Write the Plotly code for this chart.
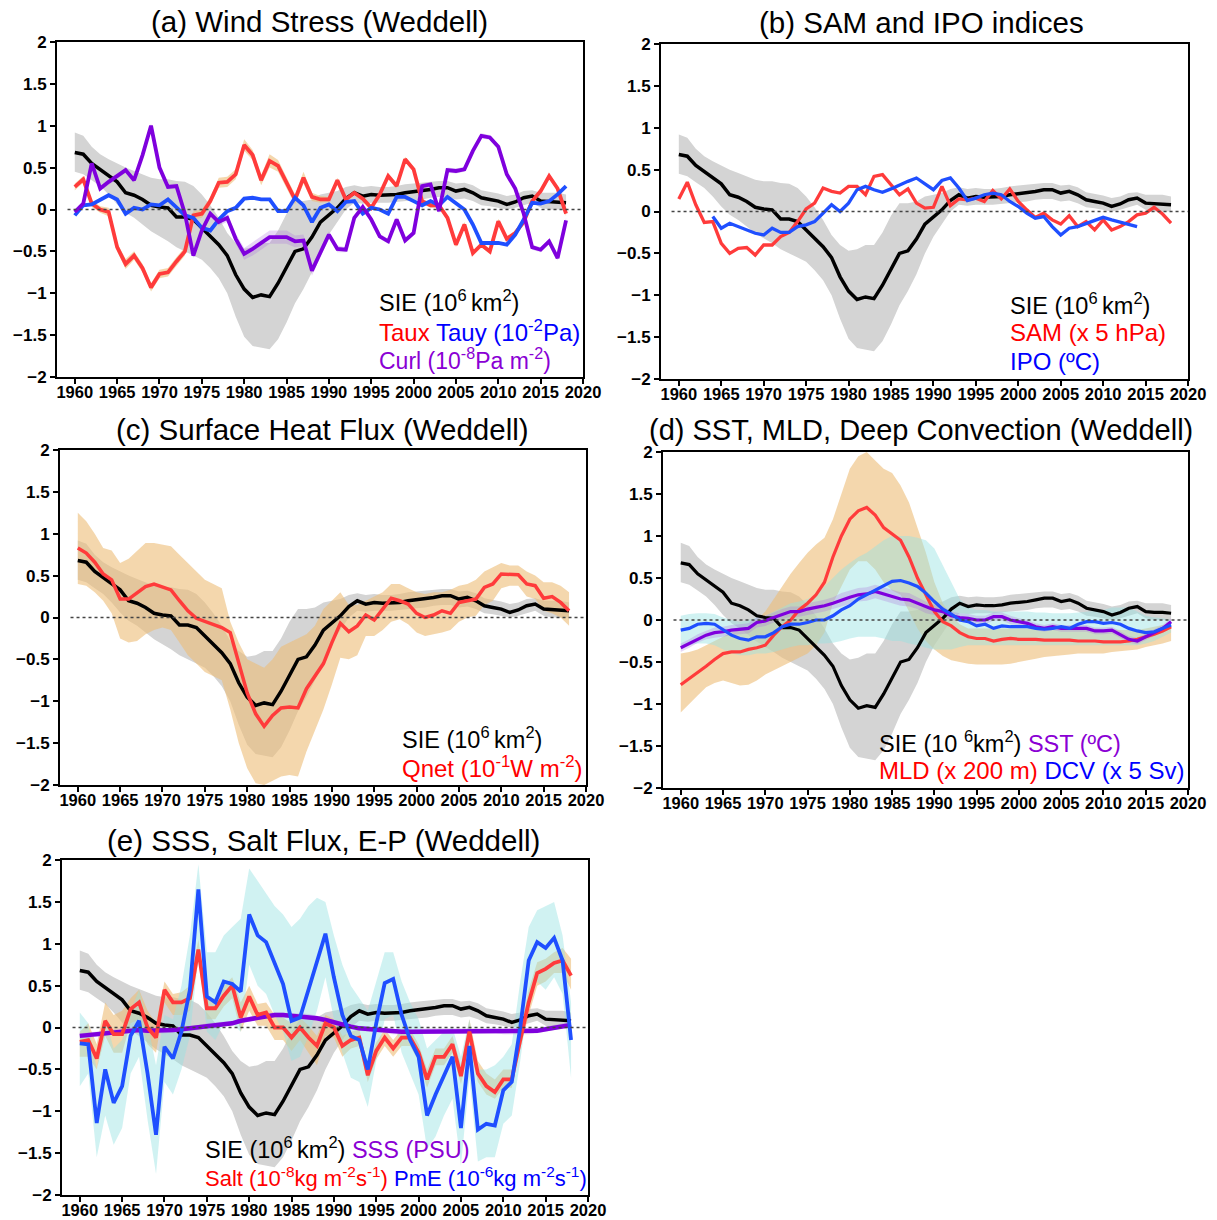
import plotly.graph_objects as go

W, H = 1217, 1220
years = list(range(1960, 2019))

# ---------------- data ----------------
sie = [0.68,0.66,0.55,0.48,0.40,0.33,0.20,0.17,0.12,0.05,
       0.03,0.02,-0.09,-0.09,-0.12,-0.22,-0.32,-0.42,-0.55,-0.78,
       -0.95,-1.05,-1.02,-1.04,-0.88,-0.68,-0.50,-0.47,-0.33,-0.15,
       -0.07,0.02,0.13,0.20,0.16,0.18,0.17,0.17,0.18,0.20,
       0.21,0.22,0.24,0.26,0.26,0.22,0.24,0.20,0.14,0.12,
       0.10,0.06,0.09,0.14,0.16,0.10,0.09,0.09,0.08]
sie_hi = [0.92,0.88,0.75,0.66,0.60,0.55,0.50,0.46,0.42,0.38,
          0.36,0.36,0.34,0.33,0.28,0.18,0.05,-0.10,-0.28,-0.40,
          -0.47,-0.45,-0.40,-0.40,-0.25,-0.05,0.10,0.10,0.12,0.18,
          0.20,0.22,0.27,0.29,0.27,0.28,0.27,0.27,0.28,0.30,
          0.31,0.32,0.33,0.34,0.34,0.31,0.32,0.29,0.23,0.21,
          0.19,0.16,0.18,0.22,0.23,0.20,0.20,0.20,0.18]
sie_lo = [0.45,0.42,0.35,0.28,0.18,0.06,-0.04,-0.10,-0.18,-0.26,
          -0.32,-0.38,-0.45,-0.50,-0.55,-0.60,-0.70,-0.82,-1.00,-1.28,
          -1.52,-1.63,-1.65,-1.67,-1.55,-1.35,-1.12,-0.95,-0.75,-0.50,
          -0.30,-0.15,0.00,0.08,0.07,0.08,0.08,0.08,0.09,0.10,
          0.11,0.12,0.14,0.15,0.15,0.12,0.13,0.10,0.05,0.04,
          0.02,0.00,0.02,0.05,0.08,0.02,0.00,0.00,0.00]

# (a) wind stress
taux = [0.27,0.36,0.07,0.00,-0.03,-0.45,-0.65,-0.55,-0.70,-0.93,
        -0.77,-0.75,-0.62,-0.50,-0.07,-0.05,0.10,0.32,0.33,0.42,
        0.77,0.65,0.35,0.58,0.52,0.32,0.12,0.38,0.15,0.12,
        0.12,0.35,0.12,0.20,0.13,0.02,0.18,0.40,0.28,0.60,
        0.48,0.10,0.05,0.05,-0.10,-0.42,-0.18,-0.52,-0.42,-0.50,
        -0.14,-0.35,-0.28,-0.15,0.10,0.22,0.40,0.25,-0.05]
taux_sd = [0.04,0.04,0.04,0.04,0.05,0.05,0.06,0.05,0.05,0.05,
           0.05,0.05,0.05,0.05,0.05,0.05,0.05,0.06,0.06,0.06,
           0.07,0.06,0.06,0.08,0.07,0.07,0.06,0.07,0.05,0.04,
           0.03,0.03,0.03,0.03,0.03,0.03,0.03,0.03,0.03,0.03,
           0.03,0.03,0.03,0.03,0.03,0.03,0.03,0.03,0.03,0.03,
           0.03,0.03,0.03,0.03,0.03,0.03,0.03,0.03,0.03]
tauy = [-0.07,0.05,0.06,0.12,0.17,0.12,-0.05,0.02,0.00,0.06,
        0.05,0.12,0.02,-0.07,-0.10,-0.22,-0.25,-0.12,-0.02,0.02,
        0.13,0.14,0.12,0.12,-0.02,-0.02,0.14,0.05,-0.15,0.02,
        0.06,-0.02,0.09,0.10,-0.05,0.02,0.00,-0.05,0.15,0.15,
        0.10,0.05,0.10,0.05,0.15,0.07,0.00,-0.18,-0.40,-0.40,
        -0.40,-0.42,-0.30,-0.12,0.08,0.07,0.10,0.18,0.28]
curl = [-0.03,0.07,0.55,0.25,0.33,0.40,0.47,0.35,0.65,1.00,
        0.50,0.27,0.28,-0.05,-0.55,-0.25,-0.05,-0.15,-0.10,-0.35,
        -0.53,-0.47,-0.40,-0.33,-0.33,-0.33,-0.38,-0.37,-0.73,-0.52,
        -0.30,-0.47,-0.48,-0.10,0.03,-0.12,-0.32,-0.38,-0.12,-0.37,
        -0.28,0.28,0.30,-0.02,0.47,0.46,0.48,0.70,0.88,0.86,
        0.75,0.42,0.25,-0.05,-0.45,-0.48,-0.38,-0.58,-0.13]
curl_sd = [0.03,0.03,0.03,0.03,0.03,0.03,0.03,0.03,0.03,0.03,
           0.03,0.03,0.03,0.03,0.03,0.03,0.03,0.04,0.05,0.06,
           0.07,0.08,0.08,0.08,0.08,0.08,0.07,0.07,0.06,0.05,
           0.04,0.04,0.03,0.03,0.03,0.03,0.03,0.03,0.03,0.03,
           0.03,0.03,0.03,0.03,0.03,0.03,0.03,0.03,0.03,0.03,
           0.03,0.03,0.03,0.03,0.03,0.03,0.03,0.03,0.03]

# (b) SAM and IPO
sam = [0.15,0.35,0.08,-0.13,-0.12,-0.38,-0.50,-0.44,-0.43,-0.52,
       -0.40,-0.40,-0.30,-0.25,-0.12,0.03,0.10,0.28,0.24,0.22,
       0.30,0.30,0.20,0.42,0.44,0.32,0.20,0.27,0.10,0.04,
       0.05,0.30,0.07,0.15,0.14,0.16,0.12,0.25,0.15,0.27,
       0.12,0.02,-0.07,-0.02,-0.10,-0.15,-0.05,-0.18,-0.12,-0.22,
       -0.10,-0.22,-0.18,-0.12,-0.04,-0.02,0.05,-0.03,-0.14]
ipo = [None,None,None,None,-0.06,-0.20,-0.14,-0.18,-0.22,-0.26,
       -0.28,-0.20,-0.25,-0.25,-0.18,-0.16,-0.12,-0.02,0.08,0.00,
       0.10,0.26,0.30,0.26,0.23,0.27,0.32,0.36,0.40,0.33,
       0.26,0.37,0.40,0.28,0.13,0.16,0.20,0.22,0.20,0.12,
       0.06,-0.02,-0.08,-0.06,-0.18,-0.28,-0.20,-0.18,-0.14,-0.10,
       -0.07,-0.10,-0.13,-0.15,-0.18,None,None,None,None]

# (c) surface heat flux
qnet = [0.83,0.77,0.66,0.52,0.45,0.22,0.22,0.30,0.37,0.40,
        0.37,0.33,0.20,0.08,-0.01,-0.05,-0.08,-0.12,-0.18,-0.55,
        -0.90,-1.15,-1.30,-1.17,-1.08,-1.07,-1.08,-0.85,-0.70,-0.55,
        -0.30,-0.07,-0.17,-0.10,0.03,-0.03,0.10,0.23,0.20,0.16,
        0.05,0.00,0.03,0.08,0.05,0.18,0.20,0.22,0.36,0.40,
        0.52,0.51,0.51,0.40,0.38,0.23,0.25,0.18,0.08]
qnet_hi = [1.25,1.15,1.00,0.83,0.80,0.65,0.70,0.80,0.89,0.89,
           0.87,0.85,0.75,0.65,0.55,0.45,0.40,0.35,-0.05,-0.30,
           -0.50,-0.55,-0.60,-0.50,-0.35,-0.30,-0.25,-0.20,-0.10,0.10,
           0.20,0.30,0.15,0.15,0.20,0.25,0.30,0.40,0.40,0.35,
           0.30,0.28,0.30,0.30,0.33,0.38,0.40,0.45,0.55,0.60,
           0.65,0.62,0.62,0.55,0.50,0.42,0.42,0.38,0.30]
qnet_lo = [0.40,0.38,0.30,0.20,0.05,-0.25,-0.30,-0.28,-0.20,-0.15,
           -0.12,-0.15,-0.30,-0.45,-0.55,-0.65,-0.70,-0.75,-1.10,-1.50,
           -1.80,-1.98,-2.00,-1.95,-1.90,-1.88,-1.90,-1.60,-1.35,-1.10,
           -0.80,-0.48,-0.50,-0.45,-0.22,-0.22,-0.15,-0.05,-0.02,-0.08,
           -0.18,-0.22,-0.20,-0.18,-0.15,-0.05,0.00,0.02,0.15,0.20,
           0.35,0.38,0.38,0.25,0.22,0.08,0.05,0.00,-0.10]

# (d) SST, MLD, DCV
mld = [-0.77,-0.70,-0.62,-0.55,-0.47,-0.40,-0.38,-0.38,-0.35,-0.33,
       -0.30,-0.18,-0.08,0.00,0.12,0.20,0.30,0.45,0.75,1.00,
       1.20,1.30,1.34,1.25,1.10,1.03,0.95,0.75,0.50,0.30,
       0.10,-0.02,-0.07,-0.15,-0.20,-0.22,-0.22,-0.25,-0.23,-0.22,
       -0.23,-0.23,-0.23,-0.24,-0.24,-0.24,-0.24,-0.25,-0.25,-0.25,
       -0.26,-0.26,-0.26,-0.25,-0.23,-0.20,-0.17,-0.13,-0.08]
mld_hi = [-0.40,-0.38,-0.35,-0.30,-0.25,-0.20,-0.15,-0.12,-0.08,0.00,
          0.10,0.25,0.40,0.55,0.68,0.80,0.90,0.98,1.20,1.50,
          1.80,1.95,2.00,1.90,1.80,1.75,1.60,1.40,1.10,0.80,
          0.45,0.20,0.05,-0.05,-0.10,-0.10,-0.10,-0.10,-0.10,-0.10,
          -0.10,-0.10,-0.10,-0.10,-0.10,-0.10,-0.10,-0.10,-0.10,-0.10,
          -0.11,-0.11,-0.12,-0.12,-0.12,-0.10,-0.08,-0.06,-0.05]
mld_lo = [-1.10,-1.00,-0.90,-0.80,-0.75,-0.72,-0.75,-0.78,-0.77,-0.72,
          -0.65,-0.60,-0.55,-0.50,-0.45,-0.40,-0.30,-0.15,0.20,0.40,
          0.60,0.70,0.70,0.60,0.45,0.35,0.30,0.10,-0.10,-0.25,
          -0.35,-0.43,-0.48,-0.50,-0.52,-0.53,-0.53,-0.53,-0.53,-0.52,
          -0.50,-0.48,-0.46,-0.44,-0.43,-0.42,-0.41,-0.40,-0.40,-0.40,
          -0.40,-0.38,-0.37,-0.36,-0.35,-0.32,-0.30,-0.28,-0.25]
dcv = [-0.12,-0.10,-0.05,-0.04,-0.05,-0.12,-0.18,-0.22,-0.24,-0.20,
       -0.20,-0.15,-0.08,-0.05,-0.05,-0.03,0.00,0.00,0.05,0.12,
       0.17,0.25,0.30,0.35,0.40,0.46,0.47,0.44,0.40,0.32,
       0.22,0.13,0.07,0.00,-0.02,-0.07,-0.05,-0.10,-0.07,-0.08,
       -0.08,-0.08,-0.10,-0.11,-0.10,-0.08,-0.10,-0.05,-0.02,-0.02,
       -0.04,-0.03,-0.05,-0.10,-0.13,-0.15,-0.14,-0.10,-0.06]
dcv_hi = [0.05,0.07,0.08,0.08,0.07,0.03,0.00,-0.02,0.00,0.03,
          0.05,0.10,0.15,0.20,0.22,0.25,0.30,0.40,0.50,0.60,
          0.68,0.75,0.80,0.87,0.95,1.00,1.00,1.00,0.98,0.95,
          0.85,0.65,0.45,0.25,0.15,0.12,0.12,0.10,0.10,0.10,
          0.10,0.10,0.09,0.09,0.08,0.08,0.08,0.09,0.10,0.11,
          0.12,0.15,0.15,0.15,0.10,0.05,0.03,0.02,0.00]
dcv_lo = [-0.30,-0.30,-0.28,-0.28,-0.30,-0.35,-0.40,-0.42,-0.42,-0.40,
          -0.40,-0.38,-0.35,-0.32,-0.30,-0.30,-0.28,-0.28,-0.27,-0.25,
          -0.22,-0.20,-0.20,-0.20,-0.22,-0.25,-0.25,-0.28,-0.30,-0.33,
          -0.35,-0.35,-0.35,-0.32,-0.30,-0.30,-0.30,-0.30,-0.30,-0.30,
          -0.30,-0.30,-0.30,-0.30,-0.30,-0.30,-0.30,-0.30,-0.30,-0.30,
          -0.30,-0.30,-0.30,-0.30,-0.30,-0.28,-0.25,-0.20,-0.15]
sst = [-0.33,-0.28,-0.22,-0.18,-0.15,-0.14,-0.12,-0.11,-0.10,-0.03,
       -0.01,0.03,0.07,0.10,0.10,0.13,0.15,0.17,0.20,0.24,
       0.27,0.30,0.31,0.34,0.31,0.28,0.25,0.24,0.20,0.15,
       0.12,0.10,0.05,0.03,0.02,0.00,0.00,0.04,0.04,0.00,
       -0.02,-0.04,-0.08,-0.10,-0.08,-0.10,-0.10,-0.10,-0.10,-0.13,
       -0.13,-0.12,-0.18,-0.23,-0.25,-0.20,-0.15,-0.10,-0.02]
sst_sd = [0.05,0.05,0.05,0.05,0.06,0.06,0.06,0.06,0.06,0.06,
          0.06,0.06,0.06,0.06,0.06,0.07,0.07,0.07,0.07,0.08,
          0.08,0.08,0.08,0.08,0.08,0.08,0.08,0.08,0.07,0.07,
          0.06,0.06,0.05,0.05,0.05,0.05,0.05,0.05,0.05,0.05,
          0.04,0.04,0.04,0.04,0.04,0.04,0.04,0.04,0.04,0.04,
          0.04,0.04,0.04,0.04,0.04,0.04,0.04,0.04,0.04]

# (e) SSS, salt flux, E-P
pme = [-0.19,-0.20,-1.14,-0.50,-0.90,-0.70,-0.10,0.08,-0.55,-1.28,
       -0.23,-0.37,-0.05,0.45,1.65,0.37,0.30,0.55,0.52,0.43,
       1.35,1.10,1.02,0.78,0.52,0.08,0.12,0.45,0.80,1.12,
       0.60,0.15,-0.10,-0.15,-0.50,0.05,0.53,0.58,0.15,-0.15,
       -0.35,-1.05,-0.80,-0.58,-0.35,-1.20,-0.22,-1.22,-1.15,-1.17,
       -0.75,-0.65,0.00,0.80,1.02,0.95,1.07,0.80,-0.15]
pme_hi = [0.18,0.05,-0.50,0.10,-0.25,-0.15,0.20,0.45,0.05,-0.45,
          0.15,0.10,0.50,1.10,1.95,0.90,0.90,1.10,1.20,1.30,
          1.90,1.75,1.60,1.45,1.35,1.20,1.30,1.45,1.55,1.50,
          1.10,0.75,0.50,0.35,0.20,0.55,0.90,0.90,0.55,0.30,
          0.10,-0.25,-0.15,-0.05,0.00,-0.35,0.10,-0.50,-0.50,-0.45,
          -0.35,-0.20,0.55,1.20,1.40,1.45,1.50,1.10,0.30]
pme_lo = [-0.70,-0.55,-1.55,-1.05,-1.40,-1.20,-0.55,-0.35,-1.10,-1.75,
          -0.65,-0.80,-0.50,-0.10,0.85,-0.05,-0.15,0.05,0.05,-0.05,
          0.75,0.50,0.40,0.15,-0.05,-0.40,-0.35,-0.10,0.20,0.60,
          0.10,-0.30,-0.60,-0.65,-0.95,-0.40,0.10,0.15,-0.30,-0.55,
          -0.80,-1.45,-1.30,-1.05,-0.85,-1.65,-0.60,-1.60,-1.55,-1.55,
          -1.15,-1.05,-0.40,0.35,0.55,0.45,0.60,0.40,-0.60]
salt = [-0.17,-0.15,-0.37,0.08,-0.08,-0.08,0.22,0.30,0.00,-0.12,
        0.45,0.30,0.30,0.35,0.93,0.23,0.23,0.38,0.50,0.12,
        0.37,0.15,0.18,0.00,0.00,-0.12,0.00,-0.12,-0.22,0.05,
        0.00,-0.22,-0.15,-0.12,-0.57,-0.28,-0.12,-0.25,-0.12,-0.12,
        -0.30,-0.62,-0.35,-0.35,-0.20,-0.58,-0.05,-0.55,-0.70,-0.77,
        -0.62,-0.62,-0.15,0.30,0.65,0.70,0.77,0.80,0.62]
salt_hi = [-0.05,0.05,-0.20,0.30,0.15,0.20,0.35,0.45,0.20,0.05,
           0.55,0.40,0.42,0.50,1.05,0.35,0.35,0.50,0.60,0.30,
           0.50,0.28,0.30,0.15,0.12,0.05,0.12,0.02,-0.10,0.15,
           0.10,-0.10,-0.05,-0.02,-0.45,-0.18,-0.02,-0.15,-0.02,-0.02,
           -0.20,-0.50,-0.25,-0.25,-0.10,-0.45,0.10,-0.40,-0.55,-0.62,
           -0.50,-0.50,-0.05,0.45,0.78,0.82,0.90,0.95,0.82]
salt_lo = [-0.35,-0.35,-0.50,-0.10,-0.30,-0.30,0.05,0.10,-0.20,-0.30,
           0.30,0.15,0.15,0.20,0.80,0.10,0.10,0.25,0.35,-0.05,
           0.20,0.02,0.02,-0.15,-0.15,-0.28,-0.15,-0.30,-0.45,-0.10,
           -0.12,-0.35,-0.25,-0.22,-0.65,-0.38,-0.22,-0.35,-0.22,-0.22,
           -0.40,-0.72,-0.45,-0.45,-0.30,-0.68,-0.20,-0.65,-0.80,-0.85,
           -0.72,-0.72,-0.25,0.15,0.50,0.55,0.65,0.65,0.45]
sss = [-0.10,-0.09,-0.08,-0.07,-0.05,-0.04,-0.03,-0.03,-0.04,-0.04,
       -0.04,-0.03,-0.02,-0.01,0.00,0.02,0.03,0.04,0.05,0.08,
       0.10,0.12,0.14,0.15,0.15,0.14,0.14,0.13,0.11,0.09,
       0.06,0.03,0.01,-0.01,-0.02,-0.03,-0.04,-0.05,-0.05,-0.05,
       -0.05,-0.04,-0.04,-0.04,-0.04,-0.04,-0.04,-0.04,-0.04,-0.04,
       -0.05,-0.05,-0.05,-0.05,-0.04,-0.02,0.00,0.02,0.03]
sss_sd = [0.03,0.03,0.03,0.03,0.03,0.03,0.03,0.03,0.03,0.03,
          0.03,0.03,0.03,0.03,0.03,0.03,0.03,0.03,0.03,0.03,
          0.03,0.03,0.03,0.03,0.03,0.03,0.03,0.03,0.03,0.03,
          0.03,0.03,0.03,0.03,0.03,0.03,0.03,0.03,0.03,0.03,
          0.03,0.03,0.03,0.03,0.03,0.03,0.03,0.03,0.03,0.03,
          0.03,0.03,0.03,0.03,0.03,0.03,0.03,0.03,0.03]

xtick_vals = [1960, 1965, 1970, 1975, 1980, 1985, 1990, 1995, 2000, 2005, 2010, 2015, 2020]
xtick_text = [str(v) for v in xtick_vals]
ytick_vals = [-2, -1.5, -1, -0.5, 0, 0.5, 1, 1.5, 2]
ytick_text = ["\u22122", "\u22121.5", "\u22121", "\u22120.5", "0", "0.5", "1", "1.5", "2"]

# ---------------- styling ----------------
RED = "#ff3b3b"
BLUE = "#1f4fff"
PURP = "#7f00dd"
GRAY_BAND = "rgb(212,212,212)"
TAN_BAND = "rgba(236,188,118,0.6)"
CYAN_BAND = "rgba(150,226,226,0.45)"
PURP_BAND = "rgba(170,110,220,0.28)"
FONT = "Liberation Sans, Arial, Helvetica, sans-serif"

# panel frames in pixels: (left, right, top, bottom)
frames = {
    1: (57, 583, 42, 377),
    2: (661, 1188, 44, 379),
    3: (60, 586, 450, 785),
    4: (663, 1188, 452, 788),
    5: (62, 588, 860, 1195),
}

fig = go.Figure()


def axname(i, kind):
    return kind if i == 1 else f"{kind}{i}"


def band(i, hi, lo, color):
    fig.add_trace(go.Scatter(
        x=years + years[::-1], y=hi + lo[::-1], fill="toself", fillcolor=color,
        line=dict(width=0), mode="lines", hoverinfo="skip", showlegend=False,
        xaxis=axname(i, "x"), yaxis=axname(i, "y")))


def band_sd(i, mid, sd, color):
    hi = [m + s for m, s in zip(mid, sd)]
    lo = [m - s for m, s in zip(mid, sd)]
    band(i, hi, lo, color)


def line(i, y, color, width):
    fig.add_trace(go.Scatter(
        x=years, y=y, mode="lines", line=dict(color=color, width=width),
        connectgaps=False, showlegend=False,
        xaxis=axname(i, "x"), yaxis=axname(i, "y")))


# (a)
band(1, sie_hi, sie_lo, GRAY_BAND)
band_sd(1, taux, taux_sd, TAN_BAND)
band_sd(1, curl, curl_sd, PURP_BAND)
line(1, sie, "black", 3.5)
line(1, taux, RED, 3.8)
line(1, tauy, BLUE, 3.8)
line(1, curl, PURP, 3.8)

# (b)
band(2, sie_hi, sie_lo, GRAY_BAND)
line(2, sie, "black", 3.5)
line(2, sam, RED, 3.3)
line(2, ipo, BLUE, 3.3)

# (c)
band(3, sie_hi, sie_lo, GRAY_BAND)
band(3, qnet_hi, qnet_lo, TAN_BAND)
line(3, sie, "black", 3.5)
line(3, qnet, RED, 3.5)

# (d)
band(4, sie_hi, sie_lo, GRAY_BAND)
band(4, mld_hi, mld_lo, TAN_BAND)
band(4, dcv_hi, dcv_lo, CYAN_BAND)
band_sd(4, sst, sst_sd, PURP_BAND)
line(4, sie, "black", 3.2)
line(4, mld, RED, 3.2)
line(4, sst, PURP, 3.2)
line(4, dcv, BLUE, 3.2)

# (e)
band(5, sie_hi, sie_lo, GRAY_BAND)
band(5, salt_hi, salt_lo, TAN_BAND)
band(5, pme_hi, pme_lo, CYAN_BAND)
band_sd(5, sss, sss_sd, PURP_BAND)
line(5, sie, "black", 3.5)
line(5, sss, PURP, 4.5)
line(5, salt, RED, 3.8)
line(5, pme, BLUE, 3.8)

layout = dict(width=W, height=H, margin=dict(l=0, r=0, t=0, b=0),
              paper_bgcolor="white", plot_bgcolor="white", showlegend=False,
              annotations=[], shapes=[])

for i, (l, r, t, b) in frames.items():
    layout[("xaxis" if i == 1 else f"xaxis{i}")] = dict(
        domain=[l / W, r / W], range=[1957.9, 2020],
        anchor=axname(i, "y"), tickvals=xtick_vals, ticktext=xtick_text,
        tickangle=0, automargin=False, ticklabelstandoff=-6,
        ticks="outside", ticklen=5, tickwidth=1.5, tickcolor="black",
        showline=True, linecolor="black", linewidth=2, mirror=True,
        showgrid=False, zeroline=False,
        tickfont=dict(family=FONT, size=16.5, color="black", weight="bold"))
    layout[("yaxis" if i == 1 else f"yaxis{i}")] = dict(
        domain=[1 - b / H, 1 - t / H], range=[-2, 2],
        anchor=axname(i, "x"), tickvals=ytick_vals, ticktext=ytick_text,
        automargin=False,
        ticks="outside", ticklen=5, tickwidth=1.5, tickcolor="black",
        showline=True, linecolor="black", linewidth=2, mirror=True,
        showgrid=False, zeroline=False,
        tickfont=dict(family=FONT, size=17, color="black", weight="bold"))
    layout["shapes"].append(dict(
        type="line", xref=f"{axname(i, 'x')} domain", yref=axname(i, "y"),
        x0=0.02, x1=1, y0=0, y1=0, line=dict(color="#444", width=1.5, dash="dot")))

titles = [
    ("(a) Wind Stress (Weddell)", 319, 21, 29.5),
    ("(b) SAM and IPO indices", 921, 23, 29.5),
    ("(c) Surface Heat Flux (Weddell)", 322, 429, 29.5),
    ("(d) SST, MLD, Deep Convection (Weddell)", 921, 430, 29),
    ("(e) SSS, Salt Flux, E-P (Weddell)", 323, 840, 29.5),
]
for txt, px, py, fs in titles:
    layout["annotations"].append(dict(
        text=txt, x=px / W, y=1 - py / H, xref="paper", yref="paper",
        xanchor="center", yanchor="middle", showarrow=False,
        font=dict(family=FONT, size=fs, color="black")))


def c(txt, col):
    return f'<span style="color:{col}">{txt}</span>'


TR, TB, TP = "#ff0000", "#0000ff", "#8a00d4"
legends = [
    ("SIE (10<sup>6 </sup>km<sup>2</sup>)", 377, 301, 23.5),
    (c("Taux", TR) + " " + c("Tauy (10<sup>-2</sup>Pa)", TB), 377, 331, 24),
    (c("Curl (10<sup>-8</sup>Pa m<sup>-2</sup>)", TP), 377, 359, 23),
    ("SIE (10<sup>6 </sup>km<sup>2</sup>)", 1008, 304, 23.5),
    (c("SAM (x 5 hPa)", TR), 1008, 333, 24),
    (c("IPO (ºC)", TB), 1008, 361, 24),
    ("SIE (10<sup>6 </sup>km<sup>2</sup>)", 400, 738, 23.5),
    (c("Qnet (10<sup>-1</sup>W m<sup>-2</sup>)", TR), 400, 767, 24),
    ("SIE (10 <sup>6</sup>km<sup>2</sup>) " + c("SST (ºC)", TP), 877, 742, 23.5),
    (c("MLD (x 200 m)", TR) + " " + c("DCV (x 5 Sv)", TB), 877, 770, 24),
    ("SIE (10<sup>6 </sup>km<sup>2</sup>) " + c("SSS (PSU)", TP), 203, 1148, 23.5),
    (c("Salt (10<sup>-8</sup>kg m<sup>-2</sup>s<sup>-1</sup>)", TR) + " "
     + c("PmE (10<sup>-6</sup>kg m<sup>-2</sup>s<sup>-1</sup>)", TB), 203, 1177, 22),
]
for txt, px, py, fs in legends:
    layout["annotations"].append(dict(
        text=txt, x=px / W, y=1 - py / H, xref="paper", yref="paper",
        xanchor="left", yanchor="middle", showarrow=False, align="left",
        font=dict(family=FONT, size=fs, color="black")))

fig.update_layout(**layout)

page_fix = (
    "document.documentElement.style.margin='0';"
    "document.documentElement.style.overflow='hidden';"
    "document.body.style.margin='0';document.body.style.padding='0';"
    "document.body.style.overflow='hidden';"
    "var gd=document.getElementById('{plot_id}');"
    "gd.style.position='absolute';gd.style.left='0px';gd.style.top='0px';"
)
fig.write_html("out.html", config={"displayModeBar": False}, post_script=page_fix)
